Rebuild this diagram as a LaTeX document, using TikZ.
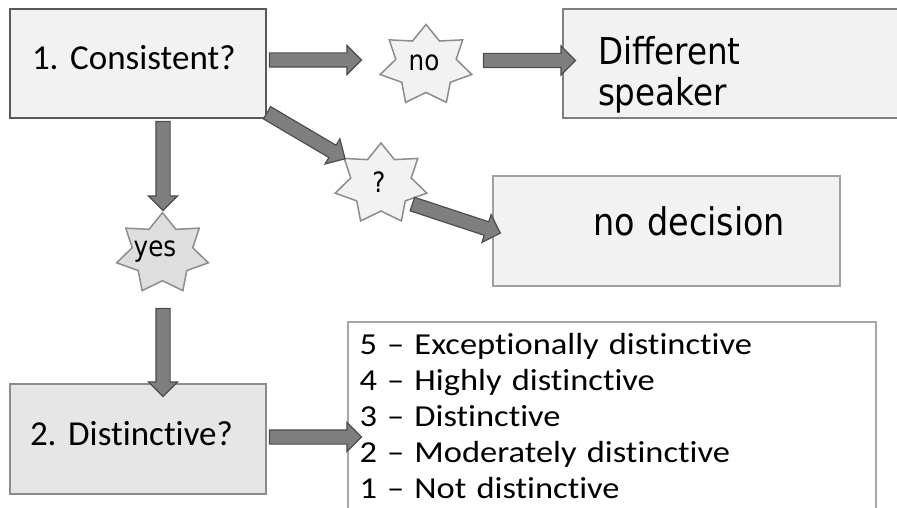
\documentclass[tikz,border=0pt]{standalone}
\usepackage{fontspec}
\setmainfont[Ligatures=NoCommon]{Carlito}
\newfontfamily\tahfont[FakeStretch=0.88]{DejaVu Sans}
\newfontfamily\listfont[FakeStretch=1.13,Ligatures=NoCommon]{Carlito}
\usetikzlibrary{shapes.arrows,calc}
\frenchspacing
\definecolor{boxfill}{HTML}{F2F2F2}
\definecolor{boxfilltwo}{HTML}{E6E6E6}
\definecolor{yesfill}{HTML}{DEDEDE}
\definecolor{darkborder}{HTML}{595959}
\definecolor{midborder}{HTML}{808080}
\definecolor{lightborder}{HTML}{A0A0A0}
\definecolor{listborder}{HTML}{A6A6A6}
\definecolor{starborder}{HTML}{8C8C8C}
\definecolor{arrowfill}{HTML}{7F7F7F}
\definecolor{arrowborder}{HTML}{4D4D4D}
\tikzset{
  boxbase/.style={rectangle, inner sep=0pt, align=left, line width=2pt},
  blockarrow/.style={shape=single arrow, draw=arrowborder, fill=arrowfill,
    line width=1.2pt, minimum width=28pt, single arrow head extend=7.5pt,
    single arrow tip angle=90, inner xsep=0pt, inner ysep=6.5pt},
  starsty/.style={draw=starborder, line width=1.5pt, line join=miter},
  startext/.style={font=\tahfont\fontsize{28}{30}\selectfont, inner sep=0pt},
}
\newcommand\barrowdraw[2]{%
  \path let \p1=(#1), \p2=(#2), \n1={atan2(\y2-\y1,\x2-\x1)},
    \n2={veclen(\x2-\x1,\y2-\y1)} in
    node[blockarrow, minimum height=\n2, rotate=\n1] at ($(\p1)!0.5!(\p2)$) {};}
\newcommand\stardraw[2]{%
  \draw[starsty, fill=#2] ($(#1)+(90:47pt and 41pt)$)
    \foreach \k [evaluate=\k as \rr using {1-0.34*mod(\k,2)}] in {1,...,13}
      { -- ($(#1)+({90+\k*360/14}:{\rr*47pt} and {\rr*41pt})$) } -- cycle;}
\begin{document}
\begin{tikzpicture}[x=1pt,y=-1pt]
\useasboundingbox (0,0) rectangle (897,508);

% boxes
\node[boxbase, draw=darkborder, fill=boxfill, minimum width=256pt, minimum height=109pt,
  text width=256pt, text height=25pt, text depth=12pt,
  font=\fontsize{35}{40}\selectfont] (box1) at (138,63.5) {\hspace*{22pt}1. Consistent?};

\node[boxbase, draw=midborder, fill=boxfill, minimum width=362pt, minimum height=109pt,
  text width=362pt, text height=20pt, text depth=17pt,
  font=\tahfont\fontsize{37}{41}\selectfont] (diff) at (744,63.5)
  {\hspace*{35pt}Different\\\hspace*{35pt}speaker};

\node[boxbase, draw=lightborder, fill=boxfill, minimum width=347pt, minimum height=110pt,
  text width=347pt, text height=24pt, text depth=16pt,
  font=\tahfont\fontsize{38}{40}\selectfont] (nodec) at (666.5,231) {\hspace*{100pt}no decision};

\node[boxbase, draw=starborder, fill=boxfilltwo, minimum width=256pt, minimum height=110pt,
  text width=256pt, text height=25pt, text depth=12pt,
  font=\fontsize{35}{40}\selectfont] (box2) at (138,439) {\hspace*{20pt}2. Distinctive?};

\node[boxbase, draw=listborder, fill=white, line width=1.2pt, minimum width=528pt, minimum height=218pt,
  text width=528pt, text height=20pt, text depth=174pt,
  font=\listfont\fontsize{30.5}{36}\selectfont] (list) at (612,431)
  {\hspace*{11.5pt}5 – Exceptionally distinctive\\
   \hspace*{11.5pt}4 – Highly distinctive\\
   \hspace*{11.5pt}3 – Distinctive\\
   \hspace*{11.5pt}2 – Moderately distinctive\\
   \hspace*{11.5pt}1 – Not distinctive};

% stars
\coordinate (snoc) at (426,65.4);
\coordinate (sqc) at (381,184);
\coordinate (syesc) at (162.5,253.7);
\stardraw{snoc}{boxfill}
\stardraw{sqc}{boxfill}
\stardraw{syesc}{yesfill}
\node[startext] (sno) at (424,63.3) {no};
\node[startext] (sq) at (379,181.7) {?};
\node[startext] (syes) at (155,251.7) {yes};

% arrow end points
\coordinate (a1s) at (266,60);   \coordinate (a1e) at (358,60);
\coordinate (a2s) at (480,60.5); \coordinate (a2e) at (572,60.5);
\coordinate (a3s) at (264,111);  \coordinate (a3e) at (342,157);
\coordinate (a4s) at (409,203);  \coordinate (a4e) at (497,232);
\coordinate (a5s) at (163,118);  \coordinate (a5e) at (163,207);
\coordinate (a6s) at (163,305);  \coordinate (a6e) at (163,393);
\coordinate (a7s) at (266,437);  \coordinate (a7e) at (358,437);

\barrowdraw{a1s}{a1e}
\barrowdraw{a2s}{a2e}
\barrowdraw{a3s}{a3e}
\barrowdraw{a4s}{a4e}
\barrowdraw{a5s}{a5e}
\barrowdraw{a6s}{a6e}
\barrowdraw{a7s}{a7e}
\end{tikzpicture}
\end{document}
